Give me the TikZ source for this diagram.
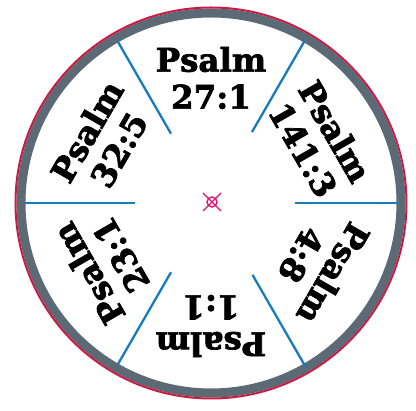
\documentclass[tikz,border=0pt]{standalone}
\usepackage{fontspec}
\setmainfont{DejaVu Serif}[BoldFeatures={FakeBold=2.2}]
\definecolor{ringgray}{RGB}{92,106,117}
\definecolor{rimred}{RGB}{200,28,66}
\definecolor{divblue}{RGB}{22,124,190}
\definecolor{markpink}{RGB}{222,22,112}

\begin{document}
\begin{tikzpicture}[
  x=1pt, y=1pt,
  verse/.style={font=\bfseries\fontsize{32.5}{37}\selectfont,
                align=center, inner sep=0pt},
  divider/.style={draw=divblue, line width=2.3pt},
  hubmark/.style={draw=markpink, line width=1.4pt}
]
  \useasboundingbox[fill=white] (-211,-208) rectangle (205,203);

  % rim
  \draw[ringgray, line width=9pt] (0,0) circle[radius=190];
  \draw[rimred, line width=2pt] (0,0) circle[radius=195.5];

  % dividers
  \draw[divider] (0:84) -- (0:187);
  \draw[divider] (60:82) -- (60:188);
  \draw[divider] (120:80) -- (120:187);
  \draw[divider] (180:76) -- (180:187);
  \draw[divider] (240:80) -- (240:187);
  \draw[divider] (300:83) -- (300:189);

  % centre mark
  \coordinate (hub) at (1,1);
  \draw[hubmark] (hub) circle[radius=5];
  \draw[hubmark] ([shift={(-9,9)}]hub) -- ([shift={(9,-9)}]hub);
  \draw[hubmark] ([shift={(9,9)}]hub) -- ([shift={(-9,-9)}]hub);

  % verses
  \node[verse, rotate=0] (ps27) at (90:125) {Psalm\\27:1};
  \node[verse, rotate=-60] (ps141) at (30:125) {Psalm\\141:3};
  \node[verse, rotate=-120] (ps4) at (-30:123) {Psalm\\4:8};
  \node[verse, rotate=180] (ps1) at (-90:123) {Psalm\\1:1};
  \node[verse, rotate=120] (ps23) at (-150:123) {Psalm\\23:1};
  \node[verse, rotate=60] (ps32) at (150:125) {Psalm\\32:5};
\end{tikzpicture}
\end{document}
